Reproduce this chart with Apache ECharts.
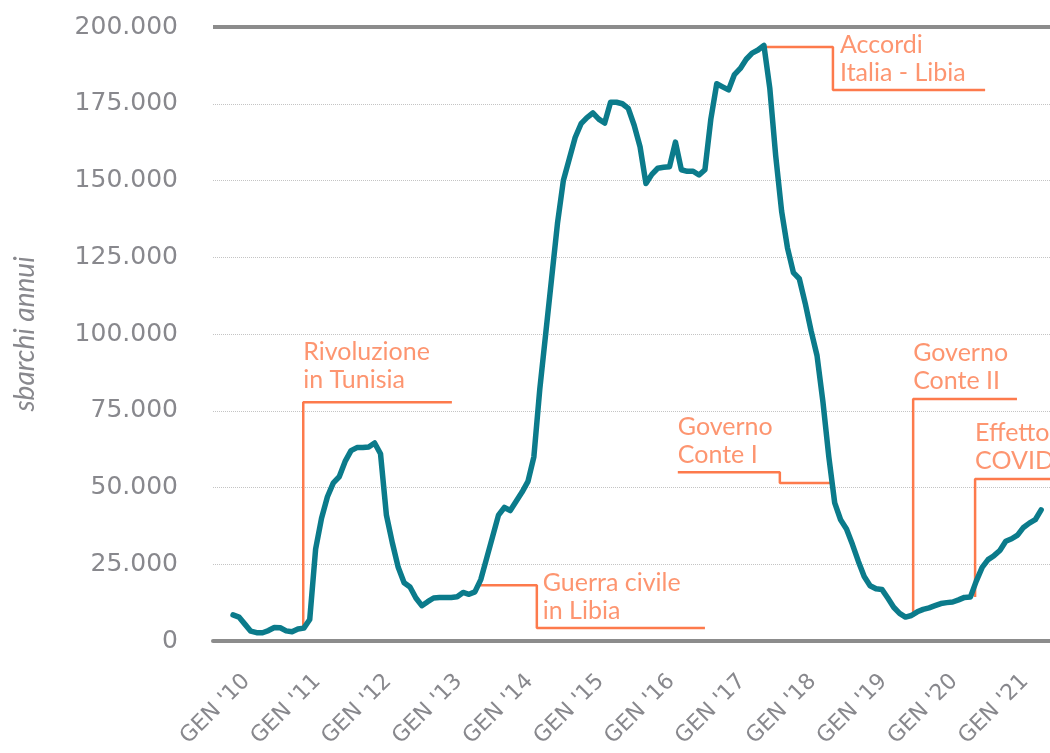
<!DOCTYPE html>
<html>
<head>
<meta charset="utf-8">
<script src="https://cdn.jsdelivr.net/npm/echarts@6/dist/echarts.min.js"></script>
<style>
  html, body { margin: 0; padding: 0; background: #fff; }
  #chart { width: 1050px; height: 753px; }
</style>
</head>
<body>
<div id="chart"></div>
<script>
// sbarchi annui (somma mobile 12 mesi), un valore al mese da GEN 2010
const sbarchi = [
  8500, 7800, 5500, 3200, 2700, 2700, 3400, 4400, 4300, 3300, 3000, 3900,
  4200, 7000, 30000, 40000, 47000, 51500, 53500, 58500, 62000, 63000, 63000, 63200,
  64500, 61000, 41000, 32000, 24000, 19000, 17600, 14000, 11500, 12800, 14000, 14200,
  14200, 14200, 14400, 15800, 15200, 16000, 20000, 27000, 34000, 41000, 43500, 42500,
  45500, 48500, 52000, 60000, 82000, 100000, 118000, 136000, 150000, 157000, 164000, 168500,
  170500, 172000, 170000, 168700, 175500, 175500, 175000, 173500, 168000, 161000, 149000, 152000,
  154000, 154300, 154500, 162500, 153500, 153000, 153000, 151800, 153500, 170000, 181500, 180500,
  179500, 184500, 186500, 189500, 191500, 192500, 194000, 180000, 158000, 140000, 128000, 120000,
  118000, 110000, 101000, 93000, 78000, 60000, 45000, 39500, 36500, 31500, 26000, 21000,
  18000, 17000, 16800, 14000, 11000, 9000, 7800, 8300, 9500, 10300, 10800, 11500,
  12200, 12500, 12700, 13400, 14200, 14300, 19500, 24000, 26500, 27800, 29500, 32500,
  33300, 34500, 37000, 38400, 39500, 42700
];

const yearStarts = [0, 12, 24, 36, 48, 60, 72, 84, 96, 108, 120, 132];
const yearLabels = ["GEN '10", "GEN '11", "GEN '12", "GEN '13", "GEN '14", "GEN '15",
  "GEN '16", "GEN '17", "GEN '18", "GEN '19", "GEN '20", "GEN '21"];

// annotazioni: testo, punto del testo [mese, valore], linea guida
const noteTexts = [
  "Rivoluzione\nin Tunisia",
  "Guerra civile\nin Libia",
  "Governo\nConte I",
  "Accordi\nItalia - Libia",
  "Governo\nConte II",
  "Effetto\nCOVID"
];
const noteAnchors = [
  [11.9, 89600], [52.5, 14300], [75.4, 65100],
  [102.9, 189600], [115.3, 89300], [125.8, 63200]
];
const notePaths = [
  [[11.9, 4600], [11.9, 77800], [37.1, 77800]],
  [[41.6, 18200], [51.5, 18200], [51.5, 4200], [80, 4200]],
  [[75.4, 55000], [92.7, 55000], [92.7, 51500], [101.5, 51500]],
  [[90, 193500], [101.7, 193500], [101.7, 179500], [127.5, 179500]],
  [[115.3, 7800], [115.3, 78800], [132.9, 78800]],
  [[125.8, 14300], [125.8, 52800], [138.5, 52800]]
];

const X_MIN = -3.4, X_MAX = 138.5, LABEL_SHIFT = 2.3;
const grey = '#88888d';
const orange = '#fd7a4c';
const teal = '#0b7b8b';

function fmt(v) {
  return String(v).replace(/\B(?=(\d{3})+(?!\d))/g, '.');
}

const myChart = echarts.init(document.getElementById('chart'));

const series = [];
notePaths.forEach(function (p) {
  series.push({
    type: 'line',
    xAxisIndex: 0,
    data: p,
    symbol: 'none',
    silent: true,
    z: 2,
    lineStyle: { color: orange, width: 2.5 }
  });
});
series.push({
  name: 'sbarchi annui',
  type: 'line',
  xAxisIndex: 0,
  data: sbarchi.map(function (v, i) { return [i, v]; }),
  symbol: 'none',
  z: 5,
  lineStyle: { color: teal, width: 5.5, join: 'round', cap: 'round' },
  markLine: {
    silent: true,
    symbol: 'none',
    label: { show: false },
    lineStyle: { color: '#8c8c8c', width: 4, type: 'solid' },
    data: [{ yAxis: 200000 }]
  }
});
series.push({
  type: 'scatter',
  xAxisIndex: 0,
  symbolSize: 0,
  silent: true,
  data: noteTexts.map(function (t, i) { return { name: t, value: noteAnchors[i] }; }),
  label: {
    show: true,
    position: 'right',
    distance: 0,
    formatter: '{b}',
    color: orange,
    fontFamily: 'Lato',
    fontSize: 25,
    lineHeight: 28,
    align: 'left'
  }
});

let option = {
  animation: false,
  backgroundColor: '#fff',
  grid: { left: 213, right: 0, top: 27, bottom: 112, containLabel: false, outerBoundsMode: 'none' },
  xAxis: [
    {
      type: 'value',
      min: X_MIN,
      max: X_MAX,
      axisLine: { show: true, lineStyle: { color: '#8c8c8c', width: 4 } },
      axisTick: { show: false },
      axisLabel: { show: false },
      splitLine: { show: false }
    },
    {
      type: 'value',
      position: 'bottom',
      min: X_MIN - LABEL_SHIFT,
      max: X_MAX - LABEL_SHIFT,
      axisLine: { show: false },
      axisTick: { show: false },
      splitLine: { show: false },
      axisLabel: {
        customValues: yearStarts,
        formatter: function (v) { return yearLabels[yearStarts.indexOf(v)]; },
        rotate: 45,
        margin: 37,
        color: grey,
        fontFamily: 'DejaVu Sans',
        fontSize: 22
      }
    }
  ],
  yAxis: {
    type: 'value',
    min: 0,
    max: 200000,
    interval: 25000,
    name: 'sbarchi annui',
    nameLocation: 'middle',
    nameGap: 174,
    nameTextStyle: { color: grey, fontFamily: 'Lato', fontStyle: 'italic', fontSize: 28 },
    axisLine: { show: false },
    axisTick: { show: false },
    axisLabel: { color: grey, fontFamily: 'DejaVu Sans', fontSize: 25, margin: 35, formatter: fmt },
    splitLine: { lineStyle: { color: '#c4c4c4', width: 1, type: 'dotted' } }
  },
  series: series
};
myChart.setOption(option);
</script>
</body>
</html>
